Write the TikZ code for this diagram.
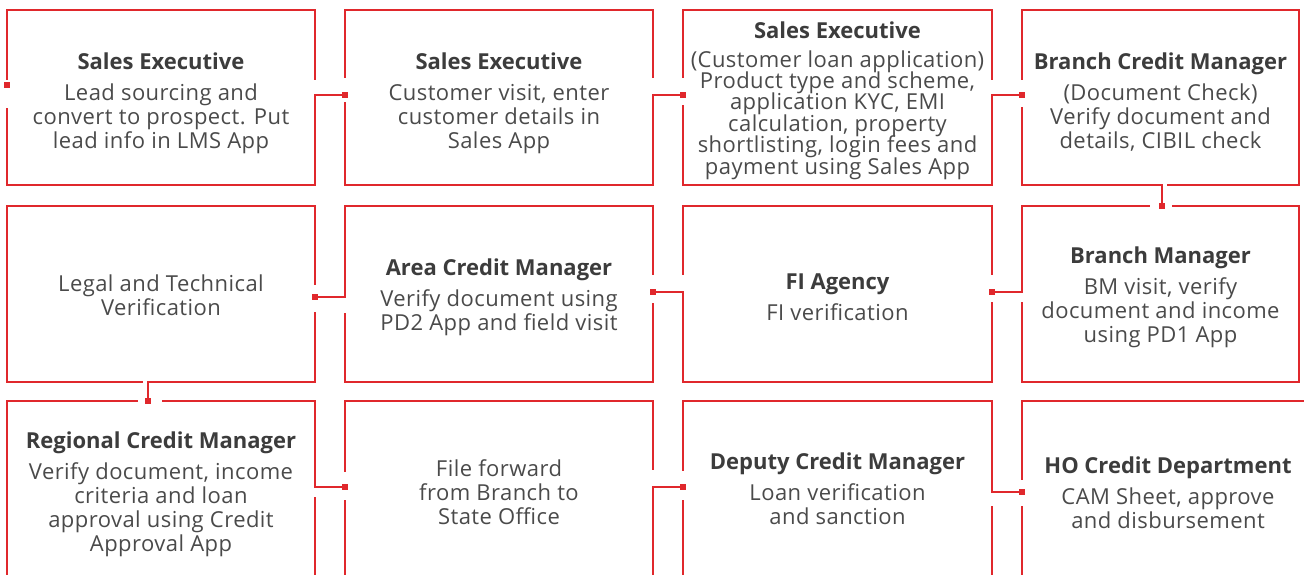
\documentclass[tikz,border=0pt]{standalone}
\usepackage{fontspec}
\setmainfont{Open Sans}[LetterSpace=2, BoldFeatures={LetterSpace=0}]
\definecolor{flowred}{HTML}{E0282C}
\definecolor{bodytext}{HTML}{4A4A4A}
\definecolor{titletext}{HTML}{3C3C3C}
\newcommand\stagetitle[1]{{\bfseries\color{titletext}#1}}
% tighter leading for the long description
\newcommand\tightlines{\fontsize{22}{21.4}\selectfont\lineskiplimit=-20pt\relax}
% white cut in a vertical edge at x, from y1 to y2
\newcommand\gapv[3]{\fill[white] (#1-2.5,#2) rectangle (#1+2.5,#3);}
% white cut in a horizontal edge at y, from x1 to x2
\newcommand\gaph[3]{\fill[white] (#1,#3-2.5) rectangle (#2,#3+2.5);}
\begin{document}
\begin{tikzpicture}[x=1pt,y=-1pt,
  stage/.style={draw=flowred, line width=1.4pt, inner sep=0pt, outer sep=0pt},
  stagetext/.style={inner sep=0pt, align=center, text=bodytext,
    font=\fontsize{22}{24}\selectfont},
  link/.style={draw=flowred, line width=1.4pt, line cap=rect},
  dot/.style={rectangle, fill=flowred, minimum size=6.5pt, inner sep=0pt, outer sep=0pt},
]
\useasboundingbox (0,0) rectangle (1304,575);

% ---- row 1
\node[stage, minimum width=308pt, minimum height=175pt] (b1) at (161,97.5) {};
\node[stagetext] (t1) at ([yshift=-6pt]b1.center)
  {\stagetitle{Sales Executive}\\[7pt] Lead sourcing and\\ convert to prospect. Put\\ lead info in LMS App};
\node[stage, minimum width=308pt, minimum height=175pt] (b2) at (499,97.5) {};
\node[stagetext] (t2) at ([yshift=-6pt]b2.center)
  {\stagetitle{Sales Executive}\\[7pt] Customer visit, enter\\ customer details in\\ Sales App};
\node[stage, minimum width=309pt, minimum height=175pt] (b3) at (837.5,97.5) {};
\node[stagetext, font=\tightlines] (t3) at ([yshift=-3pt]b3.center)
  {\stagetitle{Sales Executive}\\[7.5pt] (Customer loan application)\\ Product type and scheme,\\ application KYC, EMI\\ calculation, property\\ shortlisting, login fees and\\ payment using Sales App};
\node[stage, minimum width=277pt, minimum height=175pt] (b4) at (1160.5,97.5) {};
\node[stagetext] (t4) at ([yshift=-5pt]b4.center)
  {\stagetitle{Branch Credit Manager}\\[7pt] (Document Check)\\ Verify document and\\ details, CIBIL check};

% ---- row 2
\node[stage, minimum width=308pt, minimum height=176pt] (b5) at (161,294) {};
\node[stagetext] (t5) at ([yshift=-1pt]b5.center)
  {Legal and Technical\\ Verification};
\node[stage, minimum width=308pt, minimum height=176pt] (b6) at (499,294) {};
\node[stagetext] (t6) at ([yshift=-3pt]b6.center)
  {\stagetitle{Area Credit Manager}\\[7pt] Verify document using\\ PD2 App and field visit};
\node[stage, minimum width=309pt, minimum height=176pt] (b7) at (837.5,294) {};
\node[stagetext] (t7) at ([yshift=-3pt]b7.center)
  {\stagetitle{FI Agency}\\[7pt] FI verification};
\node[stage, minimum width=277pt, minimum height=176pt] (b8) at (1160.5,294) {};
\node[stagetext] (t8) at ([yshift=-3pt]b8.center)
  {\stagetitle{Branch Manager}\\[7pt] BM visit, verify\\ document and income\\ using PD1 App};

% ---- row 3
\node[stage, minimum width=308pt, minimum height=180pt] (b9) at (161,491) {};
\node[stagetext] (t9) at ([yshift=-3pt]b9.center)
  {\stagetitle{Regional Credit Manager}\\[7pt] Verify document, income\\ criteria and loan\\ approval using Credit\\ Approval App};
\node[stage, minimum width=308pt, minimum height=180pt] (b10) at (499,491) {};
\node[stagetext] (t10) at ([yshift=-1.5pt]b10.center)
  {File forward\\ from Branch to\\ State Office};
\node[stage, minimum width=309pt, minimum height=180pt] (b11) at (837.5,491) {};
\node[stagetext] (t11) at ([yshift=2.5pt]b11.center)
  {\stagetitle{Deputy Credit Manager}\\[7pt] Loan verification\\ and sanction};
\node[stage, minimum width=292pt, minimum height=180pt] (b12) at (1168,491) {};
\node[stagetext] (t12) at ([yshift=-2pt]b12.center)
  {\stagetitle{HO Credit Department}\\[7pt] CAM Sheet, approve\\ and disbursement};

% ---- cuts in the borders where the links attach
\gapv{7}{80}{108}
\gapv{315}{80}{95}   \gapv{345}{78}{102}
\gapv{653}{78}{95}   \gapv{683}{78}{105}
\gapv{992}{80}{95}   \gapv{1022}{80}{107}
\gaph{1162}{1167}{185} \gaph{1150}{1172}{206}
\gapv{1022}{292}{302} \gapv{992}{275}{302}
\gapv{683}{275}{292}  \gapv{653}{275}{303}
\gapv{345}{297}{313}  \gapv{315}{285}{312}
\gaph{143}{148}{382}  \gaph{138}{162}{401}
\gapv{315}{487}{497}  \gapv{345}{472}{500}
\gapv{653}{470}{487}  \gapv{683}{471}{500}
\gapv{992}{492}{506}  \gapv{1022}{480}{506}

% ---- entry markers
\node[dot] (d1) at (7,85) {};
\node[dot] (d2) at (345,95) {};
\node[dot] (d3) at (683,95) {};
\node[dot] (d4) at (1022,95) {};
\node[dot] (d8) at (1162,206) {};
\node[dot] (d7) at (992,292) {};
\node[dot] (d6) at (653,292) {};
\node[dot] (d5) at (315,297) {};
\node[dot] (d9) at (148,401) {};
\node[dot] (d10) at (345,487) {};
\node[dot] (d11) at (683,487) {};
\node[dot] (d12) at (1022,492) {};

% ---- links
\draw[link] (b1.east |- 0,95) -- (d2.center);
\draw[link] (b2.east |- 0,95) -- (d3.center);
\draw[link] (b3.east |- 0,95) -- (d4.center);
\draw[link] (b4.south -| 1162,0) -- (d8.center);
\draw[link] (b8.west |- 0,292) -- (d7.center);
\draw[link] (b7.west |- 0,292) -- (d6.center);
\draw[link] (b6.west |- 0,297) -- (d5.center);
\draw[link] (b5.south -| 148,0) -- (d9.center);
\draw[link] (b9.east |- 0,487) -- (d10.center);
\draw[link] (b10.east |- 0,487) -- (d11.center);
\draw[link] (b11.east |- 0,492) -- (d12.center);
\end{tikzpicture}
\end{document}
